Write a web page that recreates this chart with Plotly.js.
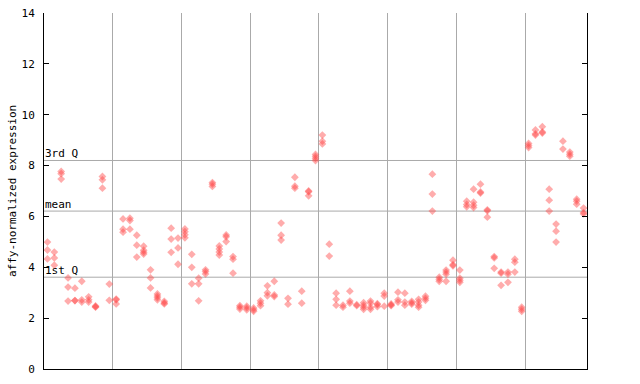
<!DOCTYPE html>
<html>
<head>
<meta charset="utf-8">
<script src="https://cdn.plot.ly/plotly-3.0.1.min.js"></script>
<style>html,body{margin:0;padding:0;background:#fff;}#chart{width:640px;height:384px;}</style>
</head>
<body>
<div id="chart"></div>
<script>
// Expression values per sample column, grouped in blocks of ten columns
const group1 = [[4.99,4.68,4.33],[4.6,4.37,4.08],[7.77,7.68,7.47],[3.58,3.22,2.67],[3.18,2.69,2.69],[3.45,2.72,2.63],[2.84,2.72,2.63],[2.48,2.45,2.43],[7.57,7.44,7.11],[3.34,2.70]];
const group2 = [[2.75,2.72,2.56],[5.9,5.5,5.38],[5.93,5.84,5.5],[5.26,4.87,4.4],[4.83,4.67,4.59,4.52],[3.9,3.58,3.19],[2.95,2.87,2.8,2.72],[2.66,2.6,2.56],[5.54,5.11,4.59],[5.15,4.76,4.12]];
const group3 = [[5.51,5.4,5.28,5.16],[4.51,4.0,3.35],[3.57,3.35,2.68],[3.9,3.83,3.74],[7.33,7.27,7.18],[4.84,4.72,4.6,4.48],[5.27,5.2,5.01],[4.42,4.32,3.77],[2.49,2.43,2.36],[2.47,2.4,2.33]];
const group4 = [[2.4,2.33,2.27],[2.68,2.59,2.49],[3.27,3.0,2.88],[3.45,2.91,2.85],[5.74,5.26,5.07],[2.78,2.55],[7.54,7.19,7.11],[3.06,2.59],[7.0,6.97,6.81],[8.44,8.36,8.28,8.2]];
const group5 = [[9.2,8.96,8.85],[4.91,4.44],[2.98,2.74,2.51],[2.51,2.43],[3.06,2.67,2.59],[2.53,2.49],[2.61,2.51,2.43,2.35],[2.67,2.59,2.43,2.35],[2.57,2.53,2.45],[2.98,2.87,2.47]];
const group6 = [[2.56,2.52,2.49],[3.02,2.72,2.63],[2.98,2.63,2.51],[2.66,2.6,2.55],[2.74,2.63,2.51,2.43],[2.86,2.78,2.7],[7.66,6.88,6.21],[3.61,3.53,3.45],[3.89,3.81,3.73,3.45],[4.28,4.1,4.06]];
const group7 = [[3.89,3.57,3.49,3.41],[6.6,6.47,6.38],[7.07,6.56,6.44,6.35],[7.27,6.96,6.92],[6.26,6.22,5.97],[4.42,4.37,3.96],[3.81,3.77,3.29],[3.81,3.73,3.41],[4.32,4.2,3.81],[2.43,2.35,2.27]];
const group8 = [[8.87,8.79,8.71],[9.4,9.25,9.2],[9.53,9.32,9.28],[7.07,6.64,6.21],[5.7,5.42,4.99],[8.96,8.65],[8.53,8.45,8.37],[6.68,6.6,6.48],[6.33,6.15,6.1]];
const groups = [group1, group2, group3, group4, group5, group6, group7, group8];

// Summary statistics lines
const statLabels = ["3rd Q", "mean", "1st Q"];
const statValues = [8.2, 6.21, 3.61];

const yTicks = [0, 2, 4, 6, 8, 10, 12, 14];
const groupBounds = [10, 20, 30, 40, 50, 60, 70];
const yTitle = "affy-normalized expression";

const xs = [], ys = [];
let col = 0;
groups.forEach(g => {
  g.forEach(vals => {
    vals.forEach(v => { xs.push(col + 0.5); ys.push(v); });
    col++;
  });
});
const nCols = col;

const font = {family: "DejaVu Sans Mono, Liberation Mono, monospace", size: 11, color: "#000"};

const trace = {
  type: "scatter", mode: "markers", x: xs, y: ys,
  marker: {symbol: "diamond", size: 6, color: "rgba(255,70,70,0.45)", line: {width: 0}},
  hoverinfo: "y", showlegend: false
};

const shapes = statValues.map(v => ({
  type: "line", xref: "paper", x0: 0, x1: 1, yref: "y", y0: v, y1: v,
  line: {color: "#aaaaaa", width: 1}, layer: "below"
}));
const annotations = statValues.map((v, i) => ({
  xref: "paper", x: 0, yref: "y", y: v, text: statLabels[i],
  xanchor: "left", yanchor: "bottom", showarrow: false, font: font, xshift: -1, yshift: -2
}));
annotations.push({
  xref: "paper", yref: "paper", x: 0, y: 0.5, xshift: -32, text: yTitle, textangle: -90,
  xanchor: "center", yanchor: "middle", showarrow: false, font: font
});

const layout = {
  width: 640, height: 384,
  margin: {l: 44, r: 53, t: 13, b: 15},
  paper_bgcolor: "#fff", plot_bgcolor: "#fff",
  font: font,
  xaxis: {
    range: [0, nCols], showticklabels: false, ticks: "",
    tickvals: groupBounds, showgrid: true, gridcolor: "#aaaaaa", gridwidth: 1,
    showline: true, linecolor: "#000", linewidth: 1, zeroline: false, mirror: false
  },
  yaxis: {
    range: [0, 14], tickvals: yTicks, ticktext: yTicks.map(String),
    ticks: "inside", ticklen: 5, tickcolor: "#000", tickwidth: 1,
    showgrid: false, zeroline: false,
    showline: true, linecolor: "#000", linewidth: 1, mirror: "ticks",
    ticklabelstandoff: 6
  },
  shapes: shapes, annotations: annotations
};

Plotly.newPlot("chart", [trace], layout, {staticPlot: true, displayModeBar: false});
</script>
</body>
</html>
